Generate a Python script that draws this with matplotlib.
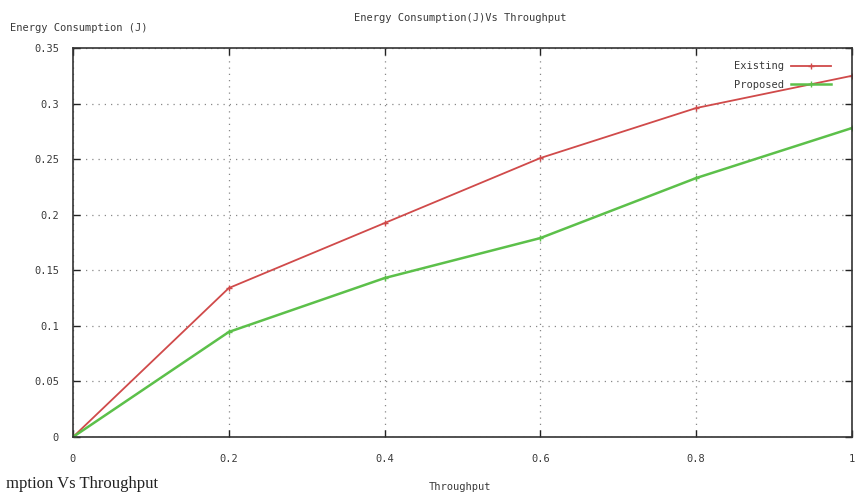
import matplotlib
matplotlib.use("Agg")
import matplotlib.pyplot as plt
from matplotlib.ticker import FixedLocator

throughput = [0.0, 0.2, 0.4, 0.6, 0.8, 1.0]
existing = [0.0, 0.134, 0.1925, 0.251, 0.296, 0.325]
proposed = [0.0, 0.0945, 0.143, 0.179, 0.233, 0.278]
xticks = [0, 0.2, 0.4, 0.6, 0.8, 1]
xtick_labels = ["0", "0.2", "0.4", "0.6", "0.8", "1"]
yticks = [0, 0.05, 0.1, 0.15, 0.2, 0.25, 0.3, 0.35]
ytick_labels = ["0", "0.05", "0.1", "0.15", "0.2", "0.25", "0.3", "0.35"]

W, H = 860, 493
fig = plt.figure(figsize=(W / 100, H / 100), dpi=100)
ax = fig.add_axes([73 / W, 1 - 437 / H, (852 - 73) / W, (437 - 48) / H])

fnt = dict(family="DejaVu Sans Mono", size=7.5, color="#3a3a3a")

red = "#d04a4a"
green = "#5cc04a"
ax.plot(throughput, existing, color=red, lw=1.3, marker="+", ms=4, mew=1, label="Existing")
ax.plot(throughput, proposed, color=green, lw=1.8, marker="+", ms=4, mew=1, label="Proposed")

ax.set_xlim(0, 1)
ax.set_ylim(0, 0.35)
ax.xaxis.set_major_locator(FixedLocator(xticks))
ax.yaxis.set_major_locator(FixedLocator(yticks))
ax.set_xticklabels(xtick_labels, **fnt)
ax.set_yticklabels(ytick_labels, **fnt)
ax.tick_params(direction="in", length=5, width=1, top=True, right=True, color="#222222", pad=12)
ax.tick_params(axis="y", pad=10)
for s in ax.spines.values():
    s.set_linewidth(1.2)
    s.set_color("#333333")
ax.grid(True, linestyle=(0, (1, 4)), color="#888888", lw=0.9)

leg = ax.legend(loc="upper right", frameon=False, markerfirst=False,
                prop=dict(family="DejaVu Sans Mono", size=7.5),
                handlelength=3.8, handletextpad=0.7, bbox_to_anchor=(0.985, 0.99), labelspacing=0.85)
for t in leg.get_texts():
    t.set_color("#3a3a3a")

fig.text(460 / W, 1 - 18 / H, "Energy Consumption(J)Vs Throughput", ha="center", va="center", **fnt)
fig.text(10 / W, 1 - 28 / H, "Energy Consumption (J)", ha="left", va="center", **fnt)
fig.text(460 / W, 1 - 487 / H, "Throughput", ha="center", va="center", **fnt)
fig.text(6 / W, 1 - 492 / H, "mption Vs Throughput", ha="left", va="bottom",
         family="Liberation Serif", size=12, color="#222222")

fig.savefig("out.png", dpi=100)
